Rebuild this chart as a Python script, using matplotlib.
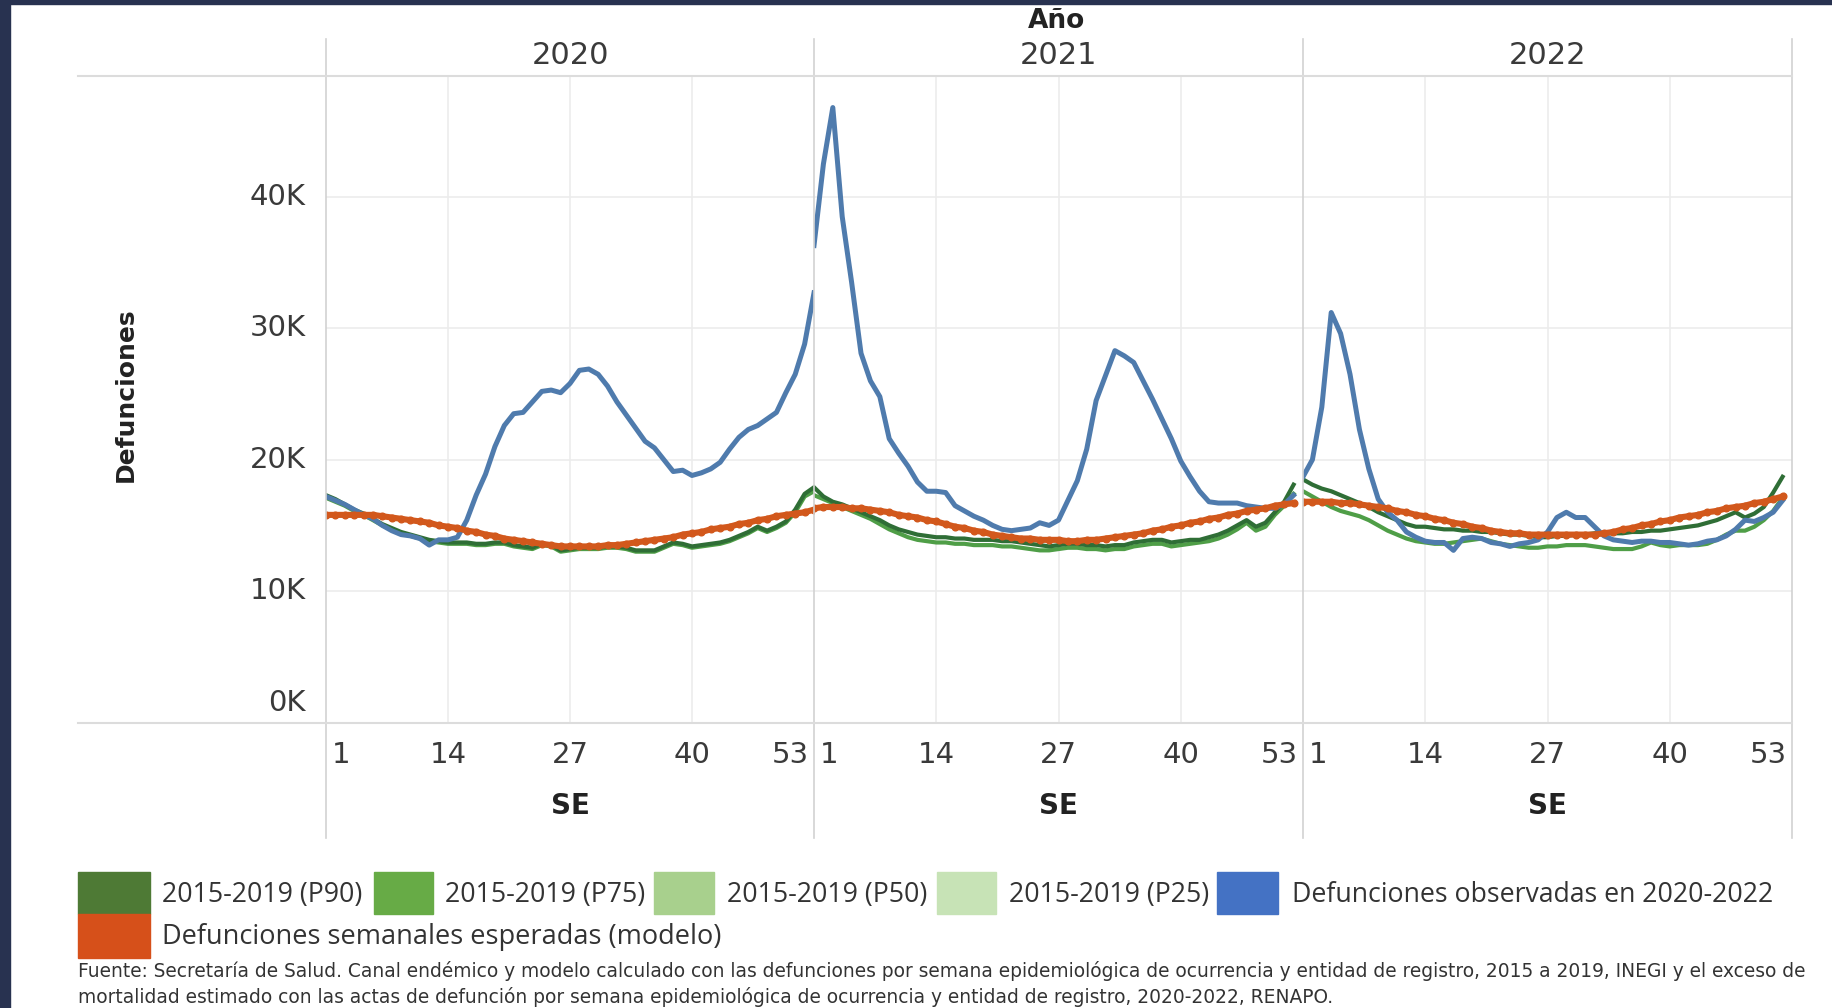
import matplotlib
matplotlib.use('Agg')
import matplotlib.pyplot as plt
from matplotlib.patches import Rectangle
from matplotlib.lines import Line2D

# ---- data (thousands of deaths per epidemiological week) ----
years = ['2020', '2021', '2022']
tick_weeks = [1, 14, 27, 40, 53]
y_ticks = [0, 10, 20, 30, 40]
y_labels = ['0K', '10K', '20K', '30K', '40K']

obs_2020 = [17.2, 16.9, 16.6, 16.2, 15.8, 15.5, 15.0, 14.6, 14.3, 14.2,
            14.0, 13.5, 13.9, 13.9, 14.1, 15.4, 17.3, 18.9, 21.0, 22.6,
            23.5, 23.6, 24.4, 25.2, 25.3, 25.1, 25.8, 26.8, 26.9, 26.5,
            25.6, 24.4, 23.4, 22.4, 21.4, 20.9, 20.0, 19.1, 19.2, 18.8,
            19.0, 19.3, 19.8, 20.8, 21.7, 22.3, 22.6, 23.1, 23.6, 25.1,
            26.5, 28.8, 32.7]
obs_2021 = [36.3, 42.5, 46.8, 38.5, 33.5, 28.1, 26.0, 24.8, 21.6, 20.5,
            19.5, 18.3, 17.6, 17.6, 17.5, 16.5, 16.1, 15.7, 15.4, 15.0,
            14.7, 14.6, 14.7, 14.8, 15.2, 15.0, 15.4, 16.9, 18.4, 20.8,
            24.5, 26.4, 28.3, 27.9, 27.4, 26.0, 24.6, 23.1, 21.6, 19.9,
            18.7, 17.6, 16.8, 16.7, 16.7, 16.7, 16.5, 16.4, 16.3, 16.3,
            16.6, 17.3]
obs_2022 = [18.7, 20.0, 24.0, 31.2, 29.6, 26.5, 22.3, 19.3, 17.0, 16.0,
            15.4, 14.5, 14.1, 13.8, 13.7, 13.7, 13.1, 14.0, 14.1, 14.0,
            13.7, 13.6, 13.4, 13.6, 13.7, 13.9, 14.5, 15.6, 16.0, 15.6,
            15.6, 14.9, 14.2, 13.9, 13.8, 13.7, 13.8, 13.8, 13.7, 13.7,
            13.6, 13.5, 13.6, 13.8, 13.9, 14.2, 14.7, 15.4, 15.3, 15.6,
            16.0, 16.9]

model_2020 = [15.8, 15.8, 15.8, 15.8, 15.8, 15.8, 15.7, 15.6, 15.5, 15.4,
              15.3, 15.2, 15.0, 14.9, 14.8, 14.6, 14.5, 14.3, 14.2, 14.0,
              13.9, 13.8, 13.7, 13.6, 13.5, 13.4, 13.4, 13.4, 13.4, 13.4,
              13.5, 13.5, 13.6, 13.7, 13.8, 13.9, 14.0, 14.1, 14.3, 14.4,
              14.5, 14.7, 14.8, 14.9, 15.1, 15.2, 15.4, 15.5, 15.7, 15.8,
              15.9, 16.0, 16.2]
model_2021 = [16.3, 16.4, 16.4, 16.4, 16.3, 16.3, 16.2, 16.1, 16.0, 15.8,
              15.7, 15.6, 15.4, 15.3, 15.1, 14.9, 14.8, 14.6, 14.5, 14.3,
              14.2, 14.1, 14.0, 14.0, 13.9, 13.9, 13.9, 13.8, 13.8, 13.9,
              13.9, 14.0, 14.1, 14.2, 14.3, 14.4, 14.6, 14.7, 14.9, 15.0,
              15.2, 15.3, 15.5, 15.6, 15.8, 15.9, 16.1, 16.2, 16.3, 16.5,
              16.6, 16.7]
model_2022 = [16.8, 16.8, 16.8, 16.8, 16.7, 16.7, 16.6, 16.5, 16.4, 16.3,
              16.1, 16.0, 15.8, 15.7, 15.5, 15.4, 15.2, 15.1, 14.9, 14.8,
              14.6, 14.5, 14.4, 14.4, 14.3, 14.3, 14.3, 14.3, 14.3, 14.3,
              14.3, 14.3, 14.4, 14.5, 14.7, 14.8, 15.0, 15.1, 15.3, 15.4,
              15.6, 15.7, 15.8, 16.0, 16.1, 16.3, 16.4, 16.5, 16.7, 16.8,
              17.0, 17.2]

p90_2020 = [17.3, 17.0, 16.6, 16.2, 15.9, 15.5, 15.1, 14.8, 14.5, 14.3,
            14.1, 13.9, 13.8, 13.7, 13.7, 13.7, 13.6, 13.6, 13.7, 13.7,
            13.5, 13.4, 13.3, 13.6, 13.5, 13.1, 13.2, 13.3, 13.3, 13.3,
            13.4, 13.4, 13.3, 13.1, 13.1, 13.1, 13.4, 13.7, 13.6, 13.4,
            13.5, 13.6, 13.7, 13.9, 14.2, 14.5, 14.9, 14.6, 14.9, 15.3,
            16.2, 17.4, 17.9]
p75_2020 = [17.1, 16.8, 16.5, 16.1, 15.8, 15.4, 15.0, 14.7, 14.4, 14.2,
            14.0, 13.8, 13.7, 13.6, 13.6, 13.6, 13.5, 13.5, 13.6, 13.6,
            13.4, 13.3, 13.2, 13.5, 13.4, 13.0, 13.1, 13.2, 13.2, 13.2,
            13.3, 13.3, 13.2, 13.0, 13.0, 13.0, 13.3, 13.6, 13.5, 13.3,
            13.4, 13.5, 13.6, 13.8, 14.1, 14.4, 14.8, 14.5, 14.8, 15.2,
            16.0, 17.2, 17.6]
p90_2021 = [17.9, 17.2, 16.8, 16.6, 16.3, 16.0, 15.7, 15.4, 15.0, 14.7,
            14.5, 14.3, 14.2, 14.1, 14.1, 14.0, 14.0, 13.9, 13.9, 13.9,
            13.8, 13.8, 13.7, 13.6, 13.5, 13.4, 13.5, 13.6, 13.6, 13.5,
            13.5, 13.4, 13.5, 13.5, 13.7, 13.8, 13.9, 13.9, 13.7, 13.8,
            13.9, 13.9, 14.1, 14.3, 14.6, 15.0, 15.4, 14.9, 15.2, 16.0,
            16.8, 18.1]
p75_2021 = [17.3, 17.0, 16.7, 16.4, 16.1, 15.8, 15.5, 15.1, 14.7, 14.4,
            14.1, 13.9, 13.8, 13.7, 13.7, 13.6, 13.6, 13.5, 13.5, 13.5,
            13.4, 13.4, 13.3, 13.2, 13.1, 13.1, 13.2, 13.3, 13.3, 13.2,
            13.2, 13.1, 13.2, 13.2, 13.4, 13.5, 13.6, 13.6, 13.4, 13.5,
            13.6, 13.7, 13.8, 14.0, 14.3, 14.7, 15.2, 14.6, 14.9, 15.8,
            16.5, 17.4]
p90_2022 = [18.5, 18.1, 17.8, 17.6, 17.3, 17.0, 16.7, 16.4, 16.0, 15.7,
            15.4, 15.1, 14.9, 14.9, 14.8, 14.7, 14.7, 14.6, 14.6, 14.5,
            14.5, 14.4, 14.3, 14.3, 14.2, 14.1, 14.1, 14.2, 14.2, 14.3,
            14.3, 14.4, 14.4, 14.4, 14.4, 14.5, 14.5, 14.6, 14.6, 14.7,
            14.8, 14.9, 15.0, 15.2, 15.4, 15.7, 16.0, 15.6, 15.9, 16.4,
            17.5, 18.7]
p75_2022 = [17.6, 17.2, 16.8, 16.4, 16.1, 15.9, 15.7, 15.4, 15.0, 14.6,
            14.3, 14.0, 13.8, 13.7, 13.6, 13.6, 13.7, 13.8, 13.9, 14.0,
            13.8, 13.6, 13.5, 13.4, 13.3, 13.3, 13.4, 13.4, 13.5, 13.5,
            13.5, 13.4, 13.3, 13.2, 13.2, 13.2, 13.4, 13.7, 13.5, 13.4,
            13.5, 13.5, 13.5, 13.6, 13.9, 14.3, 14.6, 14.6, 14.9, 15.4,
            16.1, 17.1]

observed = [obs_2020, obs_2021, obs_2022]
model = [model_2020, model_2021, model_2022]
p90 = [p90_2020, p90_2021, p90_2022]
p75 = [p75_2020, p75_2021, p75_2022]

legend_labels = ['2015-2019 (P90)', '2015-2019 (P75)', '2015-2019 (P50)',
                 '2015-2019 (P25)', 'Defunciones observadas en 2020-2022',
                 'Defunciones semanales esperadas (modelo)']
legend_colors = ['#4e7a35', '#67ab46', '#a8d08d', '#c7e3b6', '#4472c4', '#d6501a']
footer = ('Fuente: Secretaría de Salud. Canal endémico y modelo calculado con las defunciones '
          'por semana epidemiológica de ocurrencia y entidad de registro, 2015 a 2019, INEGI y el exceso de\n'
          'mortalidad estimado con las actas de defunción por semana epidemiológica de ocurrencia '
          'y entidad de registro, 2020-2022, RENAPO.')

# ---- layout (pixel positions in a 1832x1008 canvas) ----
W, H = 1832, 1008
def fx(x): return x / W
def fy(y): return 1 - y / H

edges = [326, 814, 1303, 1792]
top_px, base_px = 76, 722.5
px_per_k = 13.14
y_top = (base_px - top_px) / px_per_k

txt = '#3a3a3a'
grid = '#ececec'
sep = '#d2d2d2'

fig = plt.figure(figsize=(W / 100, H / 100), dpi=100)
fig.patch.set_facecolor('white')

# dark frame at left / top
fig.patches.append(Rectangle((0, 0), fx(10), 1, transform=fig.transFigure,
                             color='#283250', zorder=0))
fig.patches.append(Rectangle((0, fy(4)), 1, 4 / H, transform=fig.transFigure,
                             color='#283250', zorder=0))

for i, yr in enumerate(years):
    left, right = edges[i], edges[i + 1]
    ax = fig.add_axes([fx(left), fy(base_px), (right - left) / W, (base_px - top_px) / H])
    ax.set_xlim(1, 53)
    ax.set_ylim(0, y_top)
    ax.axis('off')
    for t in y_ticks[1:]:
        ax.axhline(t, color=grid, lw=1.2, zorder=0)
    for w in tick_weeks[1:-1]:
        ax.axvline(w, color=grid, lw=1.2, zorder=0)

    weeks = list(range(1, len(observed[i]) + 1))
    ax.plot(weeks, p75[i], color='#4f9e47', lw=3.0, zorder=2, solid_joinstyle='round')
    ax.plot(weeks, p90[i], color='#2f6e36', lw=3.0, zorder=2, solid_joinstyle='round')
    ax.plot(weeks, observed[i], color='#4f7bad', lw=3.6, zorder=3, solid_joinstyle='round')
    ax.plot(weeks, model[i], color='#d2581c', lw=4.4, marker='o', ms=4.8,
            zorder=4, solid_joinstyle='round')

    # year header
    fig.text(fx((left + right) / 2), fy(56), yr, ha='center', va='center',
             fontsize=22, color=txt)
    # week ticks
    for w in tick_weeks:
        xp = left + (w - 1) / 52 * (right - left)
        ha = 'center'
        if w == 1:
            xp, ha = xp + 6, 'left'
        elif w == 53:
            xp, ha = xp - 5, 'right'
        fig.text(fx(xp), fy(755), str(w), ha=ha, va='center', fontsize=21, color=txt)
    fig.text(fx((left + right) / 2), fy(806), 'SE', ha='center', va='center',
             fontsize=20, fontweight='bold', color='#222222')

# panel separators, header line and base line
for e in edges:
    fig.add_artist(Line2D([fx(e), fx(e)], [fy(39), fy(838)], color=sep, lw=1.2))
fig.add_artist(Line2D([fx(78), fx(1792)], [fy(top_px), fy(top_px)], color='#dcdcdc', lw=1.5))
fig.add_artist(Line2D([fx(78), fx(1792)], [fy(base_px), fy(base_px)], color='#dcdcdc', lw=1.5))

# y labels
for t, lab in zip(y_ticks, y_labels):
    yp = base_px - t * px_per_k
    if t == 0:
        yp = 703
    fig.text(fx(306), fy(yp), lab, ha='right', va='center', fontsize=21, color=txt)

fig.text(fx(126), fy(395), 'Defunciones', rotation=90, ha='center', va='center',
         fontsize=18, fontweight='bold', color='#222222')
fig.text(fx(1057), fy(21), 'Año', ha='center', va='center', fontsize=19,
         fontweight='bold', color='#222222')

# legend
row1 = [(78, 150, 162), (374, 433, 445), (654, 714, 727), (937, 996, 1009), (1217, 1278, 1292)]
for k, (x0, x1, xt) in enumerate(row1):
    fig.patches.append(Rectangle((fx(x0), fy(914)), (x1 - x0) / W, 42 / H,
                                 transform=fig.transFigure, color=legend_colors[k]))
    fig.text(fx(xt), fy(895), legend_labels[k], ha='left', va='center',
             fontsize=19.2, family='Open Sans', color='#333333')
fig.patches.append(Rectangle((fx(78), fy(958)), 72 / W, 44 / H,
                             transform=fig.transFigure, color=legend_colors[5]))
fig.text(fx(162), fy(937), legend_labels[5], ha='left', va='center',
         fontsize=19.5, family='Open Sans', color='#333333')

fig.text(fx(78), fy(984), footer, ha='left', va='center', fontsize=13.4,
         family='DejaVu Sans', color='#333333', linespacing=1.35)

fig.savefig('out.png', dpi=100, facecolor='white')
